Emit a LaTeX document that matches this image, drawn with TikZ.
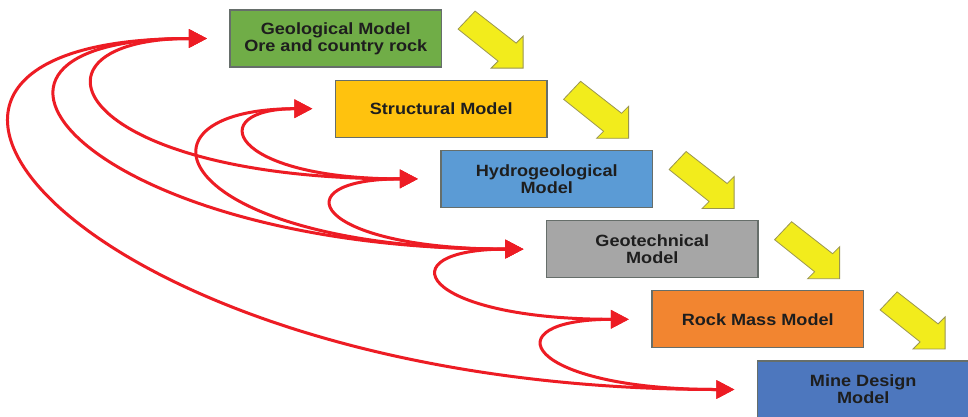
\documentclass[tikz,border=0pt]{standalone}
\usepackage{fontspec}
\setmainfont{Liberation Sans}[FakeStretch=1.11]
\usetikzlibrary{arrows.meta,calc}
\definecolor{cgreen}{HTML}{70AD47}
\definecolor{cyellow}{HTML}{FFC20E}
\definecolor{chydro}{HTML}{5B9BD5}
\definecolor{cgray}{HTML}{A6A6A6}
\definecolor{corange}{HTML}{F28530}
\definecolor{cblue}{HTML}{4D77BE}
\definecolor{boxline}{HTML}{666E6A}
\definecolor{txt}{HTML}{1E1E1E}
\definecolor{redc}{HTML}{ED1C24}
\definecolor{yel}{HTML}{F2EC1C}
\definecolor{yline}{HTML}{9A9550}
\begin{document}
\begin{tikzpicture}[x=1pt,y=-1pt,
  box/.style={draw=boxline, line width=1.2pt, minimum width=211.5pt, minimum height=57pt,
    inner sep=0pt, align=center, font=\fontsize{16.3}{17}\selectfont\bfseries, text=txt},
  fb/.style={draw=redc, line width=3pt,
    arrows={Triangle[length=18pt,width=18pt]-Triangle[length=18pt,width=18pt]}},
  yarrow/.style={fill=yel, draw=yline, line width=0.8pt, line join=miter}]
\useasboundingbox (0,0) rectangle (968,416);
\fill[white] (0,0) rectangle (968,416);

\node[box, fill=cgreen]  (b0) at (335.75, 38.5)  {Geological Model\\Ore and country rock};
\node[box, fill=cyellow] (b1) at (441.25, 108.7) {Structural Model};
\node[box, fill=chydro]  (b2) at (546.75, 178.9) {Hydrogeological\\Model};
\node[box, fill=cgray]   (b3) at (652.25, 249.1) {Geotechnical\\Model};
\node[box, fill=corange] (b4) at (757.75, 319.3) {Rock Mass Model};
\node[box, fill=cblue]   (b5) at (863.25, 389.5) {Mine Design\\Model};

\foreach \i in {0,...,4}{
  \coordinate (t\i) at ($(b\i.south east)+(81,0.5)$);
  \begin{scope}[shift={(t\i)}]
    \draw[yarrow] (-48,-57) -- (-7,-25) -- (0,-32) -- (0,0) -- (-32,0) -- (-25,-7) -- (-65,-39) -- cycle;
  \end{scope}
}

\foreach \i in {0,...,5}{
  \coordinate (a\i) at ($(b\i.west)+(-22.5,0)$);
}

\draw[fb] (a0) .. controls +(-418,0) and +(-647.5,0) .. (a5);
\draw[fb] (a0) .. controls +(-300,0) and +(-436.5,0) .. (a3);
\draw[fb] (a0) .. controls +(-195,0) and +(-351,0) .. (a2);
\draw[fb] (a1) .. controls +(-110,0) and +(-190.5,0) .. (a2);
\draw[fb] (a1) .. controls +(-195,0) and +(-351,0) .. (a3);
\draw[fb] (a2) .. controls +(-140,0) and +(-210.5,0) .. (a3);
\draw[fb] (a3) .. controls +(-140,0) and +(-210.5,0) .. (a4);
\draw[fb] (a4) .. controls +(-140,0) and +(-210.5,0) .. (a5);
\end{tikzpicture}
\end{document}
